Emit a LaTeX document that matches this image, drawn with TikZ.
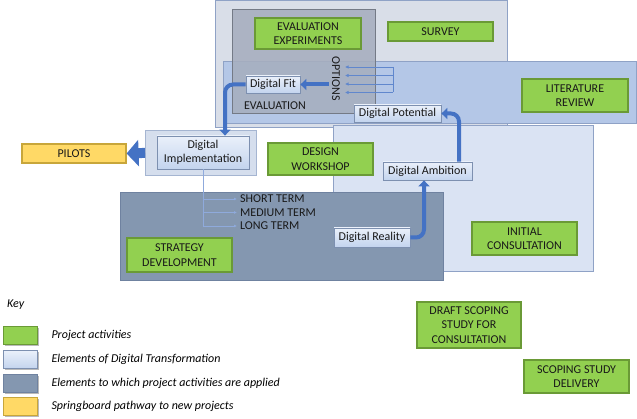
\documentclass[tikz,border=0pt]{standalone}
\usepackage{fontspec}
\setmainfont{Carlito}
\usetikzlibrary{arrows.meta,calc,shadows}
\definecolor{actgreen}{HTML}{92D050}
\definecolor{actborder}{HTML}{6A9A36}
\definecolor{digtop}{HTML}{EAF0FA}
\definecolor{digbot}{HTML}{C3D4EE}
\definecolor{digborder}{HTML}{7D90B0}
\definecolor{arrowblue}{HTML}{4472C4}
\definecolor{thinblue}{HTML}{8FAADC}
\definecolor{surveyfill}{HTML}{D9DEE8}
\definecolor{consfill}{HTML}{DAE3F3}
\definecolor{litfill}{HTML}{B4C7E7}
\definecolor{evalfill}{HTML}{A6AEBF}
\definecolor{stratfill}{HTML}{8497B0}
\definecolor{stratborder}{HTML}{6F82A0}
\definecolor{regionborder}{HTML}{8FA2C6}
\definecolor{pilotfill}{HTML}{FFD966}
\definecolor{pilotborder}{HTML}{C8A63A}
\begin{document}
\begin{tikzpicture}[x=1pt,y=-1pt,
  font=\fontsize{12}{14.5}\selectfont,
  region/.style={draw=regionborder, line width=0.8pt, inner sep=0pt, anchor=north west},
  softshadow/.style={drop shadow={shadow xshift=1.2pt, shadow yshift=-1.2pt, opacity=0.45, fill=black!60}},
  act/.style={fill=actgreen, draw=actborder, line width=1.2pt, align=center, inner sep=0pt, softshadow, text=black!90},
  dig/.style={top color=digtop, bottom color=digbot, draw=digborder, line width=0.8pt, inner sep=0pt, align=center, softshadow, text=black!90},
  thickarrow/.style={draw=arrowblue, line width=4pt, -{Triangle[length=6pt,width=11pt]}, rounded corners=8pt},
  blockarrow/.style={draw=arrowblue, line width=10pt, -{Triangle[length=12pt,width=26pt]}},
  thinline/.style={draw=thinblue, line width=0.6pt},
  thinarrow/.style={draw=thinblue, line width=0.6pt, -{Latex[length=3pt,width=3pt]}},
  optarrow/.style={draw=arrowblue!85, line width=0.6pt, -{Latex[length=3.5pt,width=3.5pt]}},
  keybox/.style={line width=1pt, minimum width=34pt, minimum height=18pt, inner sep=0pt, anchor=north west, softshadow},
  keytext/.style={anchor=west, font=\fontsize{12}{14.5}\selectfont\itshape}
]
\useasboundingbox (0,0) rectangle (637,419);

% regions
\node[region, fill=surveyfill, minimum width=292pt, minimum height=127pt] (surveybox) at (215,0.5) {};
\node[region, fill=consfill, minimum width=260pt, minimum height=146pt] (consbox) at (333,125) {};
\node[region, fill=litfill, minimum width=413pt, minimum height=62pt] (litbox) at (223,61) {};
\node[region, draw=evalfill!70!black, fill=evalfill, fill opacity=0.88, minimum width=143pt, minimum height=104pt] (evalbox) at (232,9) {};
\node[region, draw=stratborder, fill=stratfill, minimum width=323pt, minimum height=88pt] (stratbox) at (120,192) {};
\node[region, draw=regionborder!80, fill=consfill!95!gray, minimum width=111pt, minimum height=45pt] (dimplbox) at (145,130) {};

% activities
\node[act, minimum width=106pt, minimum height=31pt] (evalexp) at (308,33.5) {EVALUATION\\EXPERIMENTS};
\node[act, minimum width=105pt, minimum height=19pt] (survey) at (440.5,31.5) {SURVEY};
\node[act, minimum width=106pt, minimum height=33pt] (litrev) at (575,95.5) {LITERATURE\\REVIEW};
\node[act, minimum width=105pt, minimum height=32pt] (design) at (320.5,159) {DESIGN\\WORKSHOP};
\node[act, minimum width=105pt, minimum height=33pt] (initcons) at (524.5,238.5) {INITIAL\\CONSULTATION};
\node[act, minimum width=105pt, minimum height=34pt] (strategy) at (179.5,255) {STRATEGY\\DEVELOPMENT};
\node[act, minimum width=104pt, minimum height=46pt] (draft) at (469,325) {DRAFT SCOPING\\STUDY FOR\\CONSULTATION};
\node[act, minimum width=105pt, minimum height=33pt] (delivery) at (576.5,376.5) {SCOPING STUDY\\DELIVERY};
\node[act, fill=pilotfill, draw=pilotborder, minimum width=104pt, minimum height=19pt] (pilots) at (74,153.5) {PILOTS};

% digital elements
\node[dig, minimum width=92pt, minimum height=33pt] (dimpl) at (203,152.5) {Digital\\Implementation};
\node[dig, minimum width=54pt, minimum height=17pt] (dfit) at (273,84.5) {Digital Fit};
\node[dig, minimum width=87pt, minimum height=17pt] (dpot) at (397.5,113.5) {Digital Potential};
\node[dig, minimum width=89pt, minimum height=18pt] (damb) at (427.5,171) {Digital Ambition};
\node[dig, minimum width=76pt, minimum height=19pt] (dreal) at (372,237.5) {Digital Reality};

% labels
\node[rotate=-90, inner sep=0pt, text=black!90] (options) at (336,78.5) {OPTIONS};
\node[inner sep=0pt, text=black!90] (evallabel) at (275,106) {EVALUATION};
\node[anchor=west, inner sep=0pt, text=black!90] (st) at (240,199) {SHORT TERM};
\node[anchor=west, inner sep=0pt, text=black!90] (mt) at (240,212.5) {MEDIUM TERM};
\node[anchor=west, inner sep=0pt, text=black!90] (lt) at (240,226) {LONG TERM};

% thin connectors from implementation
\draw[thinline] (dimpl.south) -- (dimpl.south |- lt.west);
\draw[thinarrow] (dimpl.south |- st.west) -- ([xshift=-3pt]st.west);
\draw[thinarrow] (dimpl.south |- mt.west) -- ([xshift=-3pt]mt.west);
\draw[thinarrow] (dimpl.south |- lt.west) -- ([xshift=-3pt]lt.west);

% option arrows
\coordinate (ob1) at (393,67);
\coordinate (ob2) at (393,75.5);
\coordinate (ob3) at (393,84);
\coordinate (ob4) at (393,92.5);
\coordinate (oa1) at (345,67);
\coordinate (oa2) at (345,75.5);
\coordinate (oa3) at (345,84);
\coordinate (oa4) at (345,92.5);
\draw[draw=arrowblue!85, line width=0.6pt] (ob1) -- (ob4);
\draw[optarrow] (ob1) -- (oa1);
\draw[optarrow] (ob2) -- (oa2);
\draw[optarrow] (ob3) -- (oa3);
\draw[optarrow] (ob4) -- (oa4);

% thick arrows
\coordinate (optout) at (329,84.5);
\draw[thickarrow] (optout) -- (dfit.east);
\draw[thickarrow] (dfit.west) -| ([xshift=22pt]dimpl.north);
\draw[blockarrow] (dimplbox.west) -- (pilots.east);
\draw[thickarrow] (dreal.east) -| ([xshift=-3.5pt]damb.south);
\draw[thickarrow] ([xshift=31.5pt]damb.north) |- (dpot.east);

% key
\node[anchor=west, inner sep=0pt, font=\fontsize{12}{14.5}\selectfont\itshape] (keytitle) at (7,305) {Key};
\node[keybox, fill=actgreen, draw=actborder] (k1) at (3,326) {};
\node[keybox, top color=digtop, bottom color=digbot, draw=digborder] (k2) at (3,350) {};
\node[keybox, fill=stratfill, draw=stratborder] (k3) at (3,374) {};
\node[keybox, fill=pilotfill, draw=pilotborder] (k4) at (3,397) {};
\node[keytext] (kt1) at (48,335) {Project activities};
\node[keytext] (kt2) at (48,359) {Elements of Digital Transformation};
\node[keytext] (kt3) at (48,383) {Elements to which project activities are applied};
\node[keytext] (kt4) at (48,406) {Springboard pathway to new projects};
\end{tikzpicture}
\end{document}
